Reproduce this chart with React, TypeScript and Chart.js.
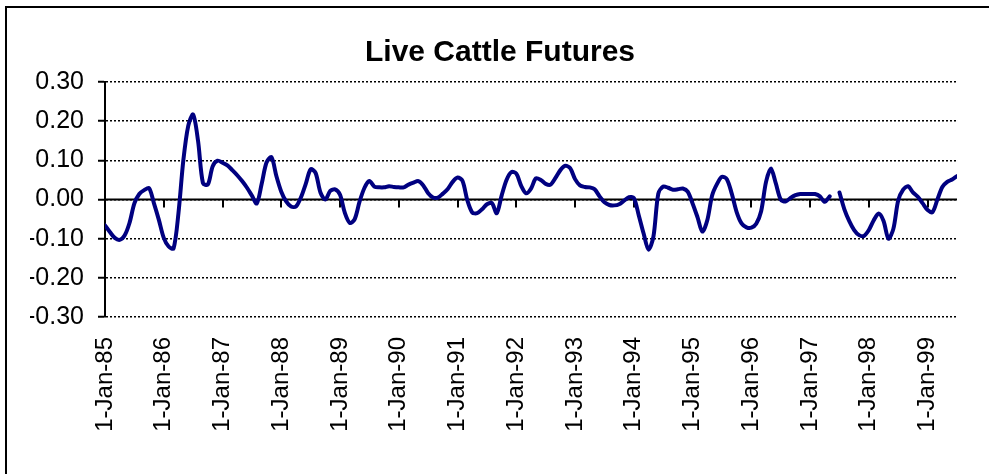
import React, { useEffect, useRef } from "react";
import { Chart, registerables } from "chart.js";

Chart.register(...registerables);

const TITLE = "Live Cattle Futures";
const YEAR_LABELS = [
  "1-Jan-85", "1-Jan-86", "1-Jan-87", "1-Jan-88", "1-Jan-89",
  "1-Jan-90", "1-Jan-91", "1-Jan-92", "1-Jan-93", "1-Jan-94",
  "1-Jan-95", "1-Jan-96", "1-Jan-97", "1-Jan-98", "1-Jan-99",
];
const Y_TICKS = [-0.3, -0.2, -0.1, 0, 0.1, 0.2, 0.3];

// monthly values, Jan-85 .. Jul-99 (one row per year)
const V85 = [-0.066, -0.083, -0.098, -0.103, -0.092, -0.060, -0.010, 0.014, 0.024, 0.029, -0.010, -0.052];
const V86 = [-0.098, -0.120, -0.125, -0.035, 0.100, 0.188, 0.217, 0.150, 0.042, 0.038, 0.085, 0.099];
const V87 = [0.094, 0.087, 0.075, 0.062, 0.047, 0.030, 0.010, -0.010, 0.040, 0.095, 0.108, 0.060];
const V88 = [0.020, -0.005, -0.018, -0.018, 0.005, 0.040, 0.077, 0.068, 0.018, 0.000, 0.022, 0.026];
const V89 = [0.012, -0.035, -0.060, -0.050, -0.005, 0.030, 0.047, 0.033, 0.031, 0.031, 0.034, 0.032];
const V90 = [0.031, 0.031, 0.038, 0.043, 0.047, 0.036, 0.016, 0.005, 0.005, 0.015, 0.027, 0.045];
const V91 = [0.056, 0.048, -0.002, -0.033, -0.035, -0.025, -0.012, -0.009, -0.035, 0.010, 0.050, 0.070];
const V92 = [0.066, 0.035, 0.016, 0.028, 0.054, 0.050, 0.040, 0.038, 0.055, 0.075, 0.086, 0.080];
const V93 = [0.052, 0.036, 0.032, 0.031, 0.026, 0.008, -0.007, -0.014, -0.015, -0.012, -0.003, 0.006];
const V94 = [0.004, -0.040, -0.087, -0.128, -0.095, 0.015, 0.033, 0.030, 0.025, 0.026, 0.028, 0.020];
const V95 = [-0.010, -0.045, -0.082, -0.053, 0.011, 0.040, 0.058, 0.052, 0.015, -0.032, -0.061, -0.071];
const V96 = [-0.072, -0.062, -0.030, 0.045, 0.079, 0.041, 0.000, -0.005, 0.004, 0.011, 0.014, 0.014];
const V97 = [0.014, 0.014, 0.008, -0.006, 0.008, null, 0.018, -0.025, -0.055, -0.078, -0.091, -0.093];
const V98 = [-0.078, -0.053, -0.036, -0.055, -0.100, -0.075, -0.002, 0.025, 0.034, 0.018, 0.007, -0.010];
const V99 = [-0.027, -0.032, 0.000, 0.032, 0.045, 0.051, 0.060];

const VALUES: (number | null)[] = [
  ...V85, ...V86, ...V87, ...V88, ...V89, ...V90, ...V91, ...V92,
  ...V93, ...V94, ...V95, ...V96, ...V97, ...V98, ...V99,
];

const FONT = "'Liberation Sans', Arial, sans-serif";

const zeroAxisPlugin = {
  id: "zeroAxis",
  beforeDatasetsDraw(chart: any) {
    const { ctx, chartArea, scales } = chart;
    const x = scales.x;
    const y = scales.y;
    const y0 = y.getPixelForValue(0);
    ctx.save();
    ctx.strokeStyle = "#000";
    ctx.lineWidth = 2;
    ctx.setLineDash([]);
    ctx.beginPath();
    ctx.moveTo(chartArea.left, y0);
    ctx.lineTo(chartArea.right, y0);
    for (const t of x.ticks) {
      const px = Math.round(x.getPixelForValue(t.value));
      ctx.moveTo(px, y0);
      ctx.lineTo(px, y0 + 8);
    }
    ctx.stroke();
    ctx.restore();
  },
};

export default function App() {
  const ref = useRef<HTMLCanvasElement | null>(null);

  useEffect(() => {
    if (!ref.current) return;
    const data = VALUES.map((v, i) => ({ x: i, y: v }));
    const chart = new Chart(ref.current, {
      type: "line",
      data: {
        datasets: [
          {
            data: data as any,
            borderColor: "#000080",
            borderWidth: 4,
            pointRadius: 0,
            tension: 0.3,
            borderCapStyle: "round",
            borderJoinStyle: "round",
            spanGaps: false,
          },
        ],
      },
      options: {
        responsive: false,
        animation: false,
        layout: { padding: { left: 30, right: 19, top: 0, bottom: 0 } },
        plugins: {
          legend: { display: false },
          tooltip: { enabled: false },
          title: {
            display: true,
            text: TITLE,
            color: "#000",
            font: { family: FONT, size: 30, weight: "bold" },
            padding: { top: 35, bottom: 11 },
          },
        },
        scales: {
          x: {
            type: "linear",
            min: 0,
            max: VALUES.length - 1,
            grid: { display: false, drawTicks: false },
            border: { display: false },
            afterFit: (s: any) => {
              s.height = 157;
            },
            afterBuildTicks: (s: any) => {
              s.ticks = YEAR_LABELS.map((_, k) => ({ value: k * 12 }));
            },
            ticks: {
              autoSkip: false,
              maxRotation: 90,
              minRotation: 90,
              padding: 20,
              color: "#000",
              font: { family: FONT, size: 24 },
              callback: (v: any) => YEAR_LABELS[Math.round(Number(v) / 12)] ?? "",
            },
          },
          y: {
            min: -0.3,
            max: 0.3,
            afterBuildTicks: (s: any) => {
              s.ticks = Y_TICKS.map((v) => ({ value: v }));
            },
            afterFit: (s: any) => {
              s.width = 75;
            },
            grid: {
              color: "#000",
              lineWidth: 1.5,
              drawTicks: true,
              tickLength: 7,
              tickColor: "#000",
              tickWidth: 2,
            },
            border: { display: true, color: "#000", width: 2, dash: [2, 2] },
            ticks: {
              padding: 14,
              color: "#000",
              font: { family: FONT, size: 25 },
              callback: (v: any) => Number(v).toFixed(2),
            },
          },
          spacer: {
            type: "linear",
            position: "right",
            display: true,
            min: -0.3,
            max: 0.3,
            grid: { display: false, drawTicks: false },
            border: { display: false },
            ticks: { display: false },
            afterFit: (s: any) => {
              s.width = 13;
            },
          },
        },
      },
      plugins: [zeroAxisPlugin],
    });
    return () => chart.destroy();
  }, []);

  return (
    <div style={{ position: "absolute", left: 0, top: 0, width: 989, height: 474, overflow: "hidden", background: "#fff" }}>
      <div
        style={{
          position: "absolute",
          left: 5,
          top: 6,
          width: 982,
          height: 466,
          borderLeft: "2px solid #000",
          borderTop: "2px solid #000",
        }}
      />
      <canvas
        ref={ref}
        width={989}
        height={474}
        style={{ position: "absolute", left: 0, top: 0, width: 989, height: 474 }}
      />
    </div>
  );
}
